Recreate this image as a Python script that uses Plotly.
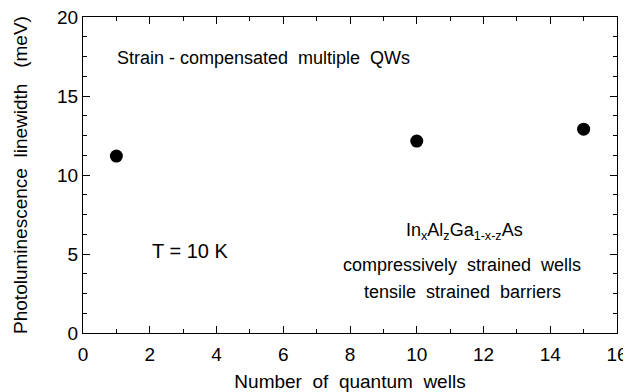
import plotly.graph_objects as go

num_wells = [1, 10, 15]
linewidth = [11.2, 12.15, 12.9]

x_ticks = [0, 2, 4, 6, 8, 10, 12, 14, 16]
y_ticks = [0, 5, 10, 15, 20]

font_family = "Liberation Sans, Arial, sans-serif"

fig = go.Figure()
fig.add_trace(go.Scatter(
    x=num_wells, y=linewidth, mode="markers",
    marker=dict(color="black", size=13),
    showlegend=False,
))

axis_common = dict(
    showgrid=False, zeroline=False, showline=True, linecolor="black", linewidth=1.2,
    mirror="allticks", ticks="inside", ticklen=7, tickwidth=1.2, tickcolor="black",
    tickfont=dict(family=font_family, size=19, color="black"),
    ticklabeloverflow="allow",
)

fig.update_xaxes(
    range=[0, 16], tickvals=x_ticks, ticktext=[str(v) for v in x_ticks],
    minor=dict(dtick=1, ticks="inside", ticklen=4, tickcolor="black", tickwidth=1),
    ticklabelstandoff=4,
    title=dict(text="Number  of  quantum  wells", font=dict(family=font_family, size=19, color="black"), standoff=10),
    **axis_common,
)
fig.update_yaxes(
    range=[0, 20], tickvals=y_ticks, ticktext=[str(v) for v in y_ticks],
    minor=dict(dtick=1.25, ticks="inside", ticklen=4, tickcolor="black", tickwidth=1),
    title=dict(text="Photoluminescence  linewidth   (meV)", font=dict(family=font_family, size=19, color="black"), standoff=24),
    **axis_common,
)

ann_font = dict(family=font_family, size=18, color="black")
fig.add_annotation(x=0.06, y=0.87, xref="paper", yref="paper", text="Strain - compensated  multiple  QWs",
                   showarrow=False, font=ann_font, xanchor="left", yanchor="middle")
fig.add_annotation(x=0.125, y=0.258, xref="paper", yref="paper", text="T = 10 K",
                   showarrow=False, font=dict(family=font_family, size=20, color="black"),
                   xanchor="left", yanchor="middle")
fig.add_annotation(x=0.714, y=0.32, xref="paper", yref="paper",
                   text="In<sub>x</sub>Al<sub>z</sub>Ga<sub>1-x-z</sub>As",
                   showarrow=False, font=ann_font, xanchor="center", yanchor="middle")
fig.add_annotation(x=0.71, y=0.215, xref="paper", yref="paper", text="compressively  strained  wells",
                   showarrow=False, font=ann_font, xanchor="center", yanchor="middle")
fig.add_annotation(x=0.71, y=0.13, xref="paper", yref="paper", text="tensile  strained  barriers",
                   showarrow=False, font=ann_font, xanchor="center", yanchor="middle")

fig.update_layout(
    width=623, height=384,
    margin=dict(l=75, r=14, t=9, b=59, autoexpand=False),
    plot_bgcolor="white", paper_bgcolor="white",
    font=dict(family=font_family, color="black"),
)

fig.write_html("out.html")
